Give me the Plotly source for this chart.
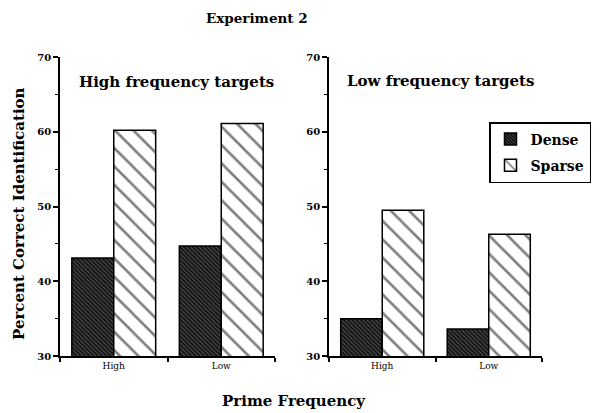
import plotly.graph_objects as go

categories = ["High", "Low"]
high_dense = [43.1, 44.7]
high_sparse = [60.2, 61.1]
low_dense = [35.0, 33.6]
low_sparse = [49.5, 46.3]
y_ticks = [30, 40, 50, 60, 70]

FONT = "DejaVu Serif"
W, H, OFF = 600, 413, 8  # page body margin shifts the figure by 8px


def px(x):
    return (x - OFF) / W


def py(y):
    return (H - (y - OFF)) / H


dense_marker = dict(color="black", line=dict(color="black", width=1.5),
                    pattern=dict(shape="\\", bgcolor="#111", fgcolor="#9a9a9a", size=3, solidity=0.35))
sparse_marker = dict(color="white", line=dict(color="black", width=1.5),
                     pattern=dict(shape="\\", bgcolor="white", fgcolor="black", size=13, solidity=0.2))

fig = go.Figure()
fig.add_trace(go.Bar(x=categories, y=high_dense, name="Dense", marker=dense_marker,
                     xaxis="x", yaxis="y", legendgroup="d"))
fig.add_trace(go.Bar(x=categories, y=high_sparse, name="Sparse", marker=sparse_marker,
                     xaxis="x", yaxis="y", legendgroup="s"))
fig.add_trace(go.Bar(x=categories, y=low_dense, name="Dense", marker=dense_marker,
                     xaxis="x2", yaxis="y2", showlegend=False))
fig.add_trace(go.Bar(x=categories, y=low_sparse, name="Sparse", marker=sparse_marker,
                     xaxis="x2", yaxis="y2", showlegend=False))

xcommon = dict(showline=True, linecolor="black", linewidth=1.5, ticks="outside", ticklen=4,
               tickcolor="black", tickwidth=1.5, tickson="boundaries", range=[-0.5, 1.5],
               tickfont=dict(family=FONT, size=9, color="black"), showgrid=False, zeroline=False,
               automargin=False)
ycommon = dict(showline=True, linecolor="black", linewidth=1.5, ticks="outside", ticklen=5,
               tickcolor="black", tickwidth=1.5, range=[30, 70], tickvals=y_ticks,
               minor=dict(dtick=5, ticks="outside", ticklen=3, tickcolor="black", tickwidth=1.2),
               tickfont=dict(family=FONT, size=10, color="black", weight="bold"),
               showgrid=False, zeroline=False, automargin=False)

fig.update_layout(
    width=W, height=H,
    margin=dict(l=0, r=0, t=0, b=0, autoexpand=False),
    paper_bgcolor="white", plot_bgcolor="white",
    barmode="group", bargap=0.22, bargroupgap=0,
    xaxis=dict(domain=[px(60), px(275)], anchor="y", **xcommon),
    yaxis=dict(domain=[py(356), py(57)], anchor="x", **ycommon),
    xaxis2=dict(domain=[px(329), px(542)], anchor="y2", **xcommon),
    yaxis2=dict(domain=[py(356), py(57)], anchor="x2", **ycommon),
    legend=dict(x=px(489), y=py(122), xanchor="left", yanchor="top",
                bordercolor="black", borderwidth=1.5, bgcolor="white",
                font=dict(family=FONT, size=14, color="black", weight="bold"),
                tracegroupgap=5, itemwidth=30),
    font=dict(family=FONT, color="black"),
)

annots = [
    dict(text="<b>High frequency targets</b>", x=176, y=82, size=15),
    dict(text="<b>Low frequency targets</b>", x=440, y=81, size=15),
    dict(text="<b>Prime Frequency</b>", x=294, y=401, size=15),
]
for a in annots:
    fig.add_annotation(text=a["text"], x=px(a["x"]), y=py(a["y"]), xref="paper", yref="paper",
                       showarrow=False, xanchor="center", yanchor="middle",
                       font=dict(family=FONT, size=a["size"], color="black"))
fig.add_annotation(text="<b>Experiment 2</b>", x=px(257), y=py(9),
                   xref="paper", yref="paper", showarrow=False,
                   xanchor="center", yanchor="top", borderpad=0,
                   font=dict(family=FONT, size=13.5, color="black"))
fig.add_annotation(text="<b>Percent Correct Identification</b>", x=px(9), y=py(214),
                   xref="paper", yref="paper", showarrow=False, textangle=-90,
                   xanchor="left", yanchor="middle", borderpad=0,
                   font=dict(family=FONT, size=15, color="black"))

fig.write_html("out.html")
